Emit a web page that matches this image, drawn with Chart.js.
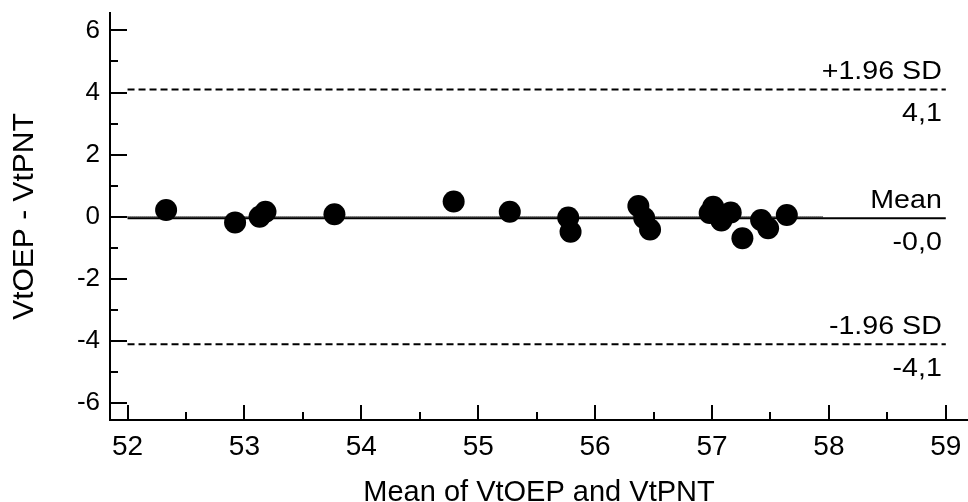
<!DOCTYPE html>
<html>
<head>
<meta charset="utf-8">
<title>Bland-Altman VtOEP vs VtPNT</title>
<script src="https://cdn.jsdelivr.net/npm/chart.js@4.4.1/dist/chart.umd.min.js"></script>
<style>
  html, body { margin: 0; padding: 0; background: #fff; }
  #wrap { width: 968px; height: 502px; }
</style>
</head>
<body>
<div id="wrap"><canvas id="baPlot"></canvas></div>
<script>
// mean of the two methods (x) and their difference (y)
const meanValues = [52.33, 52.92, 53.13, 53.18, 53.77, 54.79, 55.27, 55.77, 55.79,
                    56.37, 56.42, 56.47, 56.98, 57.01, 57.08, 57.16, 57.26, 57.42, 57.48, 57.64];
const diffValues = [0.22, -0.18, 0.00, 0.16, 0.08, 0.49, 0.16, -0.02, -0.48,
                    0.35, -0.04, -0.41, 0.12, 0.32, -0.12, 0.14, -0.69, -0.10, -0.37, 0.06];

const xTickValues = [52, 53, 54, 55, 56, 57, 58, 59];
const xMinorTicks = [52.5, 53.5, 54.5, 55.5, 56.5, 57.5, 58.5];
const yTickValues = [-6, -4, -2, 0, 2, 4, 6];
const yMinorTicks = [-5, -3, -1, 1, 3, 5];

const meanDiff = -0.045;
const upperLimit = 4.1;
const lowerLimit = -4.1;
const limitNames = ['+1.96 SD', 'Mean', '-1.96 SD'];
const lineStart = 52;
const lineEnd = 59;
const zeroLineEnd = 57.95;

const FONT = '"Liberation Sans", Arial, sans-serif';

function fmt(v) {
  return v.toFixed(1).replace('.', ',');
}

function hLine(yVal, x0, x1, dash, width) {
  return {
    type: 'line',
    data: [{ x: x0, y: yVal }, { x: x1, y: yVal }],
    borderColor: '#000',
    borderWidth: width,
    borderDash: dash,
    pointRadius: 0,
    fill: false
  };
}

// text is a bit wider in the original, stretch it slightly
function wideText(ctx, text, x, y) {
  ctx.save();
  ctx.translate(x, y);
  ctx.scale(1.1, 1);
  ctx.fillText(text, 0, 0);
  ctx.restore();
}

// inward tick marks + limit labels on the right
const axisTicksPlugin = {
  id: 'axisTicks',
  afterDraw(chart) {
    const { ctx, chartArea, scales: { x, y } } = chart;
    ctx.save();
    ctx.strokeStyle = '#000';
    ctx.lineWidth = 2;
    ctx.beginPath();
    xTickValues.forEach(v => {
      const px = Math.round(x.getPixelForValue(v));
      ctx.moveTo(px, chartArea.bottom);
      ctx.lineTo(px, chartArea.bottom - 15);
    });
    xMinorTicks.forEach(v => {
      const px = Math.round(x.getPixelForValue(v));
      ctx.moveTo(px, chartArea.bottom);
      ctx.lineTo(px, chartArea.bottom - 8);
    });
    yTickValues.forEach(v => {
      const py = Math.round(y.getPixelForValue(v));
      ctx.moveTo(chartArea.left, py);
      ctx.lineTo(chartArea.left + 17, py);
    });
    yMinorTicks.forEach(v => {
      const py = Math.round(y.getPixelForValue(v));
      ctx.moveTo(chartArea.left, py);
      ctx.lineTo(chartArea.left + 8, py);
    });
    ctx.stroke();

    ctx.font = '26px ' + FONT;
    ctx.fillStyle = '#000';
    ctx.textAlign = 'right';
    ctx.textBaseline = 'alphabetic';
    const tx = x.getPixelForValue(lineEnd) - 4;
    [upperLimit, meanDiff, lowerLimit].forEach((v, i) => {
      const py = y.getPixelForValue(v);
      wideText(ctx, limitNames[i], tx, py - 10);
      wideText(ctx, fmt(v), tx, py + 32);
    });
    ctx.restore();
  }
};

const ctx = document.getElementById('baPlot').getContext('2d');

new Chart(ctx, {
  data: {
    datasets: [
      hLine(0, lineStart, zeroLineEnd, [1, 1], 1.5),
      hLine(meanDiff, lineStart, lineEnd, [], 2),
      hLine(upperLimit, lineStart, lineEnd, [7, 4], 2),
      hLine(lowerLimit, lineStart, lineEnd, [7, 4], 2),
      {
        type: 'scatter',
        data: meanValues.map((m, i) => ({ x: m, y: diffValues[i] })),
        backgroundColor: '#000',
        borderWidth: 0,
        pointRadius: 11,
        pointHoverRadius: 11
      }
    ]
  },
  options: {
    responsive: true,
    maintainAspectRatio: false,
    animation: false,
    layout: { autoPadding: false, padding: { top: 13, right: 0, bottom: 0, left: 0 } },
    plugins: {
      legend: { display: false },
      tooltip: { enabled: false }
    },
    scales: {
      x: {
        type: 'linear',
        min: 51.85,
        max: 59.19,
        grid: { display: false, drawTicks: false },
        border: { display: true, color: '#000', width: 2 },
        afterBuildTicks: scale => { scale.ticks = xTickValues.map(v => ({ value: v })); },
        afterFit: scale => {
          scale.height = 82;
          scale.paddingLeft = 0;
          scale.paddingRight = 0;
        },
        ticks: {
          color: '#000',
          font: { family: FONT, size: 28 },
          padding: 10,
          maxRotation: 0,
          autoSkip: false
        },
        title: {
          display: true,
          text: 'Mean of VtOEP and VtPNT',
          color: '#000',
          font: { family: FONT, size: 29, lineHeight: 0.6 },
          padding: 0
        }
      },
      y: {
        type: 'linear',
        min: -6.54,
        max: 6.56,
        grid: { display: false, drawTicks: false },
        border: { display: true, color: '#000', width: 2 },
        afterBuildTicks: scale => { scale.ticks = yTickValues.map(v => ({ value: v })); },
        afterFit: scale => {
          scale.width = 110;
          scale.paddingTop = 0;
          scale.paddingBottom = 0;
        },
        ticks: {
          color: '#000',
          font: { family: FONT, size: 26 },
          padding: 10
        },
        title: {
          display: true,
          text: 'VtOEP - VtPNT',
          color: '#000',
          font: { family: FONT, size: 30 },
          padding: { top: 7, bottom: 0 }
        }
      }
    }
  },
  plugins: [axisTicksPlugin]
});
</script>
</body>
</html>
